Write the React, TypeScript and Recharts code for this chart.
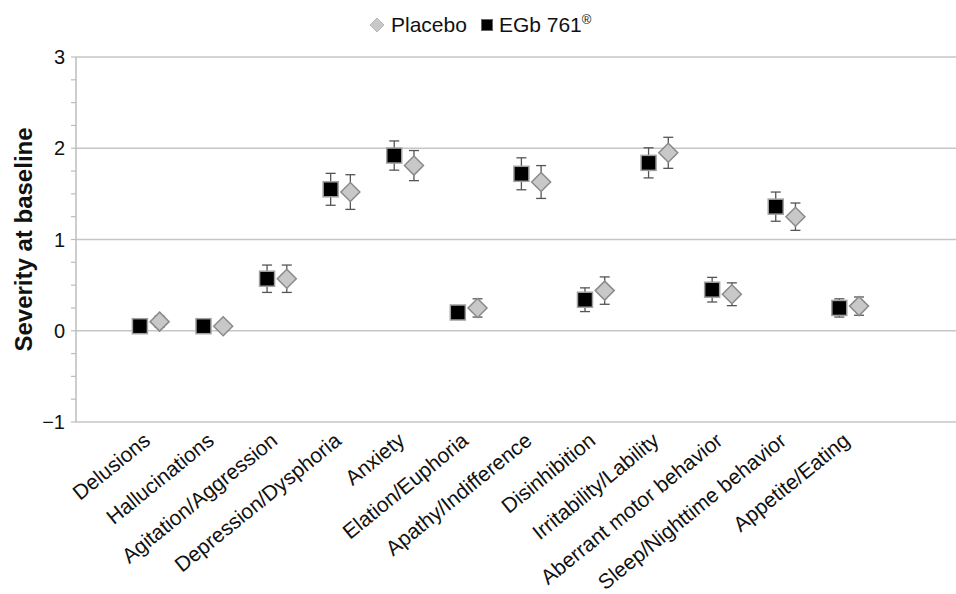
import {
  ScatterChart,
  Scatter,
  XAxis,
  YAxis,
  ErrorBar,
  ReferenceLine,
  Legend,
} from "recharts";

const categories = [
  "Delusions",
  "Hallucinations",
  "Agitation/Aggression",
  "Depression/Dysphoria",
  "Anxiety",
  "Elation/Euphoria",
  "Apathy/Indifference",
  "Disinhibition",
  "Irritability/Lability",
  "Aberrant motor behavior",
  "Sleep/Nighttime behavior",
  "Appetite/Eating",
];

const egbMean = [0.05, 0.05, 0.57, 1.55, 1.92, 0.2, 1.72, 0.34, 1.84, 0.45, 1.36, 0.25];
const egbErr = [0.04, 0.03, 0.15, 0.175, 0.16, 0.06, 0.175, 0.13, 0.165, 0.135, 0.16, 0.1];
const placeboMean = [0.1, 0.05, 0.57, 1.52, 1.81, 0.25, 1.63, 0.44, 1.95, 0.4, 1.25, 0.27];
const placeboErr = [0.06, 0.04, 0.15, 0.19, 0.165, 0.1, 0.18, 0.15, 0.17, 0.125, 0.15, 0.1];

const majorTicks = [-1, 0, 1, 2, 3];

const FONT = "'Liberation Sans', Arial, sans-serif";
const PAIR_SHIFT = 0.155; // half the gap between the two markers of a category

const allTicks: number[] = [];
for (let v = -1; v <= 3.001; v += 0.25) allTicks.push(Math.round(v * 100) / 100);

const egbData = categories.map((_, i) => ({ x: i + 1 - PAIR_SHIFT, y: egbMean[i], err: egbErr[i] }));
const placeboData = categories.map((_, i) => ({ x: i + 1 + PAIR_SHIFT, y: placeboMean[i], err: placeboErr[i] }));

function SquareMark(props: any) {
  const { cx, cy } = props;
  if (cx == null || cy == null) return null;
  return <rect x={cx - 7.5} y={cy - 7.5} width={15} height={15} fill="#000" stroke="#a0a0a0" strokeWidth={1.5} />;
}

function DiamondMark(props: any) {
  const { cx, cy } = props;
  if (cx == null || cy == null) return null;
  const r = 9.5;
  return (
    <path
      d={`M${cx},${cy - r}L${cx + r},${cy}L${cx},${cy + r}L${cx - r},${cy}Z`}
      fill="#c8c8c8"
      stroke="#8a8a8a"
      strokeWidth={1.5}
    />
  );
}

function CategoryTick(props: any) {
  const { x, y, payload } = props;
  const label = categories[Math.round(payload.value) - 1] ?? "";
  const ax = x + 2;
  const ay = y + 21;
  return (
    <text
      x={ax}
      y={ay}
      textAnchor="end"
      fontSize={21}
      fontFamily={FONT}
      fill="#111"
      transform={`rotate(-39, ${ax}, ${ay})`}
    >
      {label}
    </text>
  );
}

function LegendContent() {
  return (
    <div style={{ display: "flex", alignItems: "center", fontFamily: FONT, fontSize: 21, color: "#111" }}>
      <svg width={16} height={16} style={{ marginRight: 6 }}>
        <path d="M8,1L15,8L8,15L1,8Z" fill="#c8c8c8" stroke="#b8b8b8" strokeWidth={1} />
      </svg>
      <span style={{ marginRight: 14 }}>Placebo</span>
      <svg width={12} height={12} style={{ marginRight: 6 }}>
        <rect x={0.5} y={0.5} width={11} height={11} fill="#000" stroke="#666" strokeWidth={1} />
      </svg>
      <span>
        EGb 761<sup style={{ fontSize: 13 }}>®</sup>
      </span>
    </div>
  );
}

export default function App() {
  return (
    <div style={{ width: 956, height: 594, background: "#fff" }}>
      <style>{"body{margin:0}"}</style>
      <ScatterChart width={956} height={594} margin={{ top: 57, right: 0, bottom: 0, left: 0 }}>
        <XAxis
          type="number"
          dataKey="x"
          domain={[-0.16, 13.68]}
          ticks={[1, 2, 3, 4, 5, 6, 7, 8, 9, 10, 11, 12]}
          interval={0}
          axisLine={false}
          tickLine={false}
          tickSize={0}
          tickMargin={0}
          height={172}
          tick={<CategoryTick />}
          allowDataOverflow
        />
        <YAxis
          type="number"
          dataKey="y"
          domain={[-1, 3]}
          ticks={allTicks}
          interval={0}
          width={76}
          tickSize={5}
          tickMargin={6}
          axisLine={{ stroke: "#bdbdbd", strokeWidth: 1.5 }}
          tickLine={{ stroke: "#bdbdbd", strokeWidth: 1.2 }}
          tick={{ fontSize: 20, fill: "#111", fontFamily: FONT }}
          tickFormatter={(v: number) => (majorTicks.includes(v) ? String(v).replace("-", "\u2212") : "")}
          label={{
            value: "Severity at baseline",
            angle: -90,
            position: "insideLeft",
            offset: 23,
            style: { textAnchor: "middle", fontSize: 24, fontWeight: "bold", fontFamily: FONT, fill: "#111" },
          }}
        />
        {majorTicks.map((t) => (
          <ReferenceLine key={t} y={t} stroke="#c6c6c6" strokeWidth={1.5} />
        ))}
        <Legend
          verticalAlign="middle"
          align="center"
          layout="horizontal"
          content={<LegendContent />}
          wrapperStyle={{ top: 12, left: 369, width: 300 }}
        />
        <Scatter name="EGb 761" data={egbData} shape={<SquareMark />} isAnimationActive={false}>
          <ErrorBar dataKey="err" direction="y" width={5} stroke="#555" strokeWidth={1.3} />
        </Scatter>
        <Scatter name="Placebo" data={placeboData} shape={<DiamondMark />} isAnimationActive={false}>
          <ErrorBar dataKey="err" direction="y" width={5} stroke="#555" strokeWidth={1.3} />
        </Scatter>
      </ScatterChart>
    </div>
  );
}
